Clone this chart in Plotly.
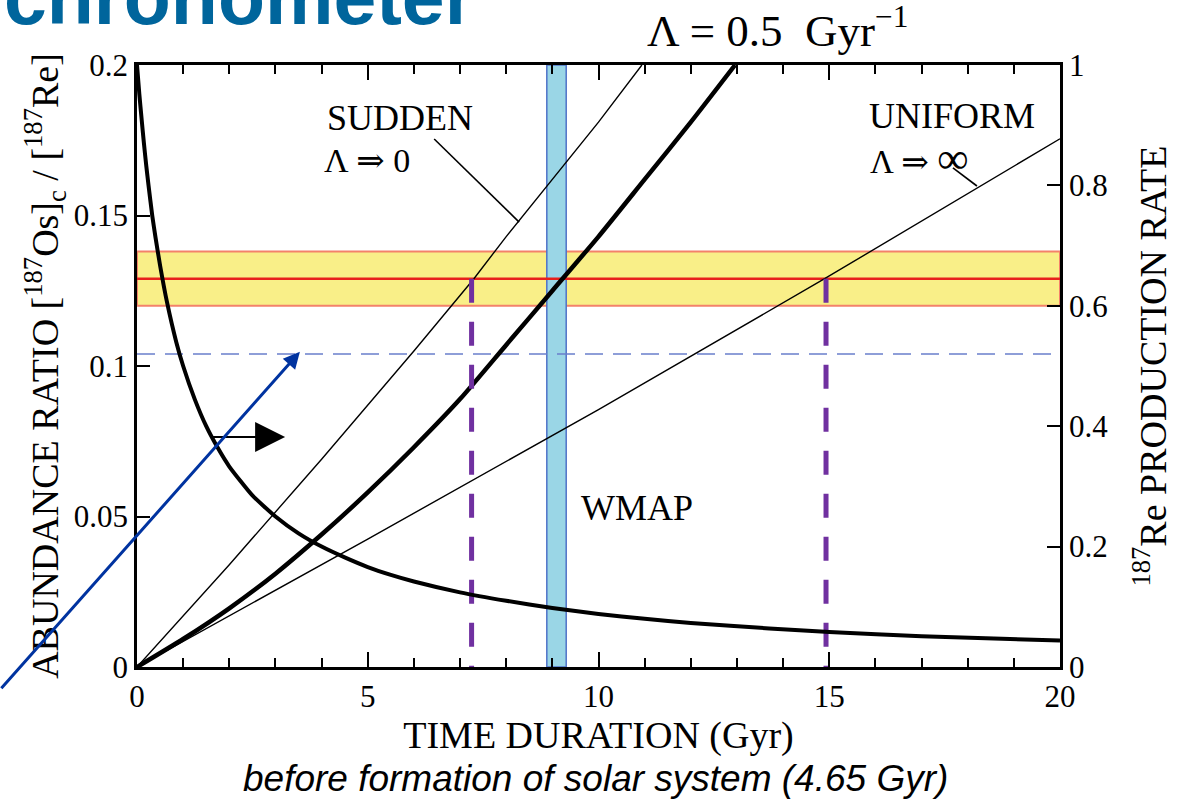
import plotly.graph_objects as go

# ---------------- data ----------------
# 187Re production rate (right axis) vs time
t_prod = [0, 0.05, 0.1, 0.15, 0.2, 0.25, 0.33, 0.4, 0.5, 0.65, 0.85, 1.0, 1.25, 1.5,
          1.75, 2, 2.5, 3, 3.5, 4, 4.5, 5, 5.5, 6, 7, 8, 9, 10, 11, 12, 13.7, 15, 17, 20]
prod_rate = [1.0, 0.952, 0.91, 0.87, 0.833, 0.80, 0.75, 0.714, 0.667, 0.606, 0.54,
             0.50, 0.445, 0.40, 0.364, 0.333, 0.285, 0.25, 0.222, 0.20, 0.182, 0.166,
             0.153, 0.142, 0.124, 0.110, 0.098, 0.088, 0.080, 0.073, 0.064, 0.058,
             0.051, 0.044]

# Lambda = 0.5 Gyr^-1 abundance ratio (thick curve)
t_lam = [0, 1, 2, 3, 4, 5, 6, 7, 8, 9, 10, 11, 12, 12.96]
ratio_lam = [0, 0.0093, 0.0195, 0.031, 0.044, 0.058, 0.073, 0.089, 0.107, 0.125,
             0.143, 0.162, 0.181, 0.2]

# SUDDEN (Lambda -> 0)
t_sudden = [0, 2, 4, 6, 7.3, 8, 10, 10.94]
ratio_sudden = [0, 0.034, 0.069, 0.105, 0.129, 0.143, 0.181, 0.2]

# UNIFORM (Lambda -> infinity)
t_uniform = [0, 5, 10, 14.9, 20]
ratio_uniform = [0, 0.0425, 0.0855, 0.129, 0.1755]

# measured ratio and its band
ratio_obs = 0.129
ratio_low = 0.120
ratio_high = 0.138
ratio_dashed = 0.104

# WMAP age band
wmap_lo = 8.88
wmap_hi = 9.30

# durations read at the observed ratio
dur_sudden = 7.25
dur_uniform = 14.93

# label leader lines (start/end)
sudden_leader_t = [6.44, 8.28]
sudden_leader_r = [0.1754, 0.1478]
uniform_leader_t = [17.68, 18.2]
uniform_leader_r = [0.1658, 0.1598]

x_ticks = [0, 5, 10, 15, 20]
y_ticks = [0, 0.05, 0.1, 0.15, 0.2]
y2_ticks = [0, 0.2, 0.4, 0.6, 0.8, 1]

SERIF = "Liberation Serif, Times New Roman, DejaVu Serif, serif"
SANS = "Liberation Sans, Arial, sans-serif"

fig = go.Figure()

# production rate curve (right axis)
fig.add_trace(go.Scatter(x=t_prod, y=prod_rate, mode="lines", yaxis="y2",
                         line=dict(color="black", width=4, shape="spline", smoothing=0.5),
                         hoverinfo="skip"))
# thick Lambda=0.5 curve
fig.add_trace(go.Scatter(x=t_lam, y=ratio_lam, mode="lines",
                         line=dict(color="black", width=4.5, shape="spline", smoothing=0.6),
                         hoverinfo="skip"))
# sudden
fig.add_trace(go.Scatter(x=t_sudden, y=ratio_sudden, mode="lines",
                         line=dict(color="black", width=1.4), hoverinfo="skip"))
# uniform
fig.add_trace(go.Scatter(x=t_uniform, y=ratio_uniform, mode="lines",
                         line=dict(color="black", width=1.4), hoverinfo="skip"))
# leader lines
fig.add_trace(go.Scatter(x=sudden_leader_t, y=sudden_leader_r, mode="lines",
                         line=dict(color="black", width=1.6), hoverinfo="skip"))
fig.add_trace(go.Scatter(x=uniform_leader_t, y=uniform_leader_r, mode="lines",
                         line=dict(color="black", width=1.6), hoverinfo="skip"))
# purple dashed verticals
for d in (dur_sudden, dur_uniform):
    fig.add_trace(go.Scatter(x=[d, d], y=[ratio_obs, 0], mode="lines",
                             line=dict(color="#7030A0", width=5, dash="24px,19px"),
                             hoverinfo="skip"))

shapes = [
    # yellow band
    dict(type="rect", xref="paper", x0=0, x1=1, yref="y", y0=ratio_low, y1=ratio_high,
         fillcolor="#F9EF88", line=dict(color="#F4826A", width=2), layer="below"),
    # WMAP band
    dict(type="rect", xref="x", x0=wmap_lo, x1=wmap_hi, yref="paper", y0=0, y1=1,
         fillcolor="#9AD6E6", line=dict(color="#4F72C8", width=1.5), layer="below"),
    # red centre line
    dict(type="line", xref="paper", x0=0, x1=1, yref="y", y0=ratio_obs, y1=ratio_obs,
         line=dict(color="#E8201C", width=2.5), layer="below"),
    # blue dashed line
    dict(type="line", xref="paper", x0=0, x1=1, yref="y", y0=ratio_dashed, y1=ratio_dashed,
         line=dict(color="#6A7FCC", width=1.5, dash="18px,10px"), layer="below"),
]

annotations = [
    dict(text="chronometer", xref="paper", yref="paper", x=-0.146, y=1.113,
         xanchor="left", yanchor="middle", showarrow=False,
         font=dict(family=SANS, size=77, color="#00659C", weight="bold")),
    dict(text="Λ = 0.5  Gyr<sup>−1</sup>", xref="paper", yref="paper", x=0.6945, y=1.063,
         xanchor="center", yanchor="middle", showarrow=False,
         font=dict(family=SERIF, size=45, color="black")),
    dict(text="SUDDEN", x=5.70, y=0.1824, xanchor="center", yanchor="middle",
         showarrow=False, font=dict(family=SERIF, size=36, color="black")),
    dict(text="Λ ⇒ 0", x=4.0, y=0.1684, xanchor="left", yanchor="middle",
         showarrow=False, font=dict(family=SERIF, size=34, color="black")),
    dict(text="UNIFORM", x=17.66, y=0.1830, xanchor="center", yanchor="middle",
         showarrow=False, font=dict(family=SERIF, size=36, color="black")),
    dict(text="Λ ⇒ <span style='font-size:44px'>∞</span>", x=15.84, y=0.1688,
         xanchor="left", yanchor="middle",
         showarrow=False, font=dict(family=SERIF, size=33, color="black")),
    dict(text="WMAP", x=10.83, y=0.0528, xanchor="center", yanchor="middle",
         showarrow=False, font=dict(family=SERIF, size=36, color="black")),
    dict(text="before formation of solar system (4.65 Gyr)", xref="paper", yref="paper",
         x=0.497, y=-0.185, xanchor="center", yanchor="middle", showarrow=False,
         font=dict(family=SANS, size=37, color="black", style="italic")),
    # black arrow pointing to right axis
    dict(text="", x=3.21, y=0.0764, ax=-75, ay=0, showarrow=True,
         arrowhead=2, arrowsize=3.0, arrowwidth=2, arrowcolor="black"),
    # blue arrow from outside
    dict(text="", x=3.53, y=0.1047, ax=-300, ay=338, showarrow=True,
         arrowhead=2, arrowsize=1.1, arrowwidth=3, arrowcolor="#0033A0"),
]

fig.update_layout(
    width=1192, height=799,
    margin=dict(l=137, r=132, t=65, b=132),
    paper_bgcolor="white", plot_bgcolor="white",
    showlegend=False,
    shapes=shapes,
    annotations=annotations,
    xaxis=dict(range=[0, 20], tickvals=x_ticks, ticks="inside", ticklen=15, tickwidth=2,
               tickcolor="black",
               minor=dict(dtick=1, ticks="inside", ticklen=9, tickwidth=2, tickcolor="black"),
               showline=True, linecolor="black", linewidth=2.5, mirror="ticks",
               showgrid=False, zeroline=False,
               tickfont=dict(family=SERIF, size=31, color="black"),
               title=dict(text="TIME DURATION (Gyr)", standoff=6,
                          font=dict(family=SERIF, size=38, color="black"))),
    yaxis=dict(range=[0, 0.2], tickvals=y_ticks, ticks="inside", ticklen=13, tickwidth=2,
               tickcolor="black", showline=True, linecolor="black", linewidth=2.5,
               showgrid=False, zeroline=False,
               tickfont=dict(family=SERIF, size=31, color="black"),
               title=dict(text="ABUNDANCE RATIO [<sup>187</sup>Os]<sub>c</sub> / [<sup>187</sup>Re]",
                          standoff=4,
                          font=dict(family=SERIF, size=38, color="black"))),
    yaxis2=dict(range=[0, 1], tickvals=y2_ticks, overlaying="y", side="right",
                ticks="inside", ticklen=13, tickwidth=2, tickcolor="black",
                showline=True, linecolor="black", linewidth=2.5,
                showgrid=False, zeroline=False,
                tickfont=dict(family=SERIF, size=31, color="black"),
                title=dict(text="<sup>187</sup>Re PRODUCTION RATE", standoff=33,
                           font=dict(family=SERIF, size=38, color="black"))),
)

fig.write_html("out.html")
